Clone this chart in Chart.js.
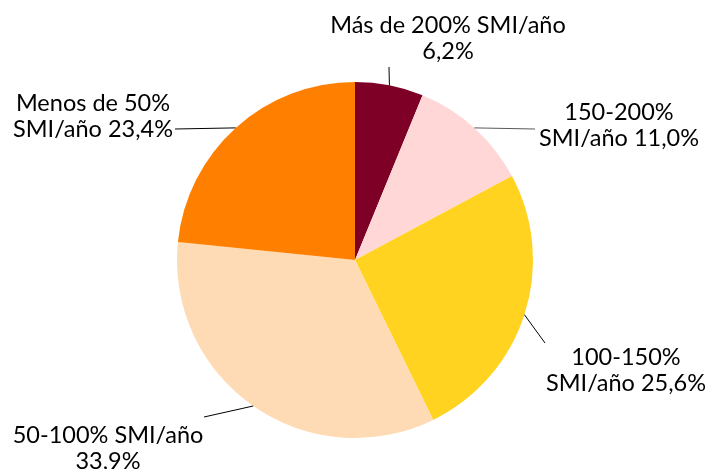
<!DOCTYPE html>
<html>
<head>
<meta charset="utf-8">
<script src="https://cdn.jsdelivr.net/npm/chart.js@4"></script>
<style>
  html, body { margin: 0; padding: 0; background: #fff; }
  #wrap { width: 710px; height: 469px; }
</style>
</head>
<body>
<div id="wrap"><canvas id="pie" width="710" height="469"></canvas></div>
<script>
var categories = ['Más de 200% SMI/año', '150-200% SMI/año', '100-150% SMI/año', '50-100% SMI/año', 'Menos de 50% SMI/año'];
var values = [6.2, 11.0, 25.6, 33.9, 23.4];
var labelLines = [
  ['Más de 200% SMI/año', '6,2%'],
  ['150-200%', 'SMI/año 11,0%'],
  ['100-150%', 'SMI/año 25,6%'],
  ['50-100% SMI/año', '33,9%'],
  ['Menos de 50%', 'SMI/año 23,4%']
];
var colors = ['#7f0026', '#ffd7d7', '#ffd320', '#ffdbb5', '#ff8000'];

// label text centre (x, y of first line) and leader end point, per slice
var labelPos = [
  {tx: 448, ty: 25, lx: 389, ly: 67},
  {tx: 619, ty: 112, lx: 535, ly: 129},
  {tx: 626, ty: 357, lx: 545, ly: 343},
  {tx: 108, ty: 435, lx: 204, ly: 417},
  {tx: 93, ty: 103, lx: 175, ly: 129}
];

var pieLabels = {
  id: 'pieLabels',
  afterDraw: function(chart){
    var ctx = chart.ctx;
    var arcs = chart.getDatasetMeta(0).data;
    ctx.save();
    arcs.forEach(function(arc, i){
      var p = labelPos[i];
      var mid = (arc.startAngle + arc.endAngle) / 2;
      var sx = arc.x + Math.cos(mid) * arc.outerRadius;
      var sy = arc.y + Math.sin(mid) * arc.outerRadius;
      ctx.strokeStyle = i === 1 ? '#595959' : '#000';
      ctx.lineWidth = 1;
      ctx.beginPath();
      ctx.moveTo(sx, sy);
      ctx.lineTo(p.lx, p.ly);
      ctx.stroke();
      ctx.fillStyle = '#000';
      ctx.font = '23.5px Lato, "Liberation Sans", sans-serif';
      ctx.textAlign = 'center';
      ctx.textBaseline = 'middle';
      labelLines[i].forEach(function(t, j){
        ctx.fillText(t, p.tx, p.ty + j * 26);
      });
    });
    ctx.restore();
  }
};

new Chart(document.getElementById('pie'), {
  type: 'pie',
  data: {
    labels: categories,
    datasets: [{data: values, backgroundColor: colors, borderWidth: 0}]
  },
  options: {
    responsive: false,
    animation: false,
    layout: {padding: {top: 82, bottom: 31, left: 0, right: 0}},
    plugins: {legend: {display: false}, tooltip: {enabled: false}}
  },
  plugins: [pieLabels]
});
</script>
</body>
</html>
